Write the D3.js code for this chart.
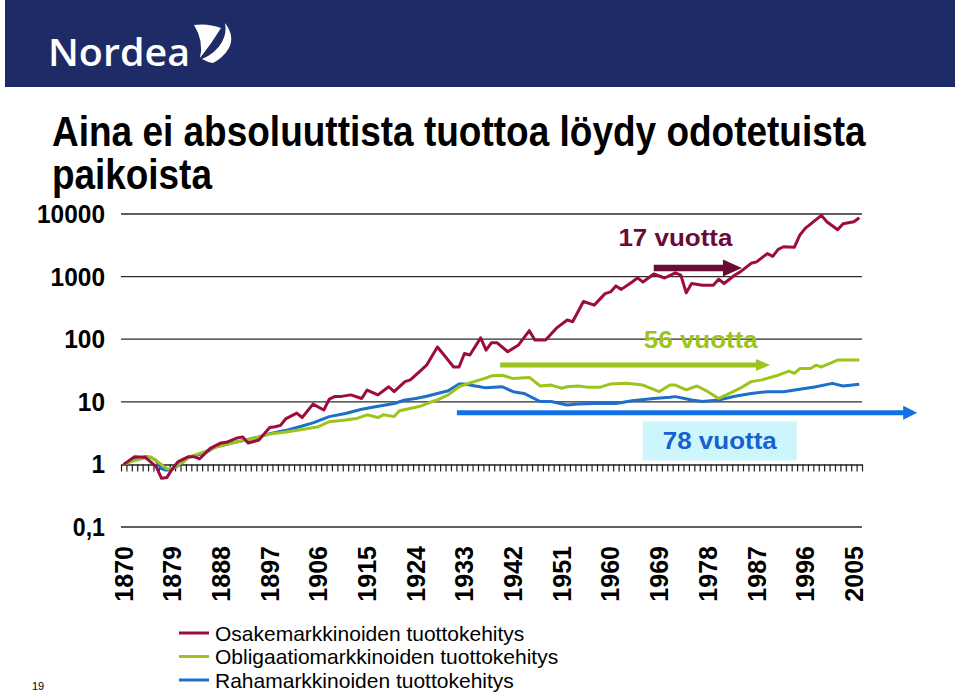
<!DOCTYPE html>
<html>
<head>
<meta charset="utf-8">
<script src="https://cdn.jsdelivr.net/npm/d3@7"></script>
<style>
  body { margin: 0; background: #fff; }
  svg { display: block; font-family: "Liberation Sans", Arial, sans-serif; }
</style>
</head>
<body>
<svg id="chart" width="960" height="693"></svg>
<script>
// Chart data (yearly index, 1870 = 1, log scale)
const firstYear = 1870;
const lastYear = 2006;
const labelYears = d3.range(1870, 2006, 9);
const yTicks = [0.1, 1, 10, 100, 1000, 10000];
const yTickLabels = ["0,1", "1", "10", "100", "1000", "10000"];

const seriesNames = [
  "Osakemarkkinoiden tuottokehitys",
  "Obligaatiomarkkinoiden tuottokehitys",
  "Rahamarkkinoiden tuottokehitys"
];
const seriesColors = ["#9c0d3e", "#9cc41c", "#1e6fc8"];

const stocks = [
  [1870, 1], [1872, 1.33], [1874, 1.3], [1876, 0.92], [1877, 0.6], [1878, 0.62],
  [1879, 0.85], [1880, 1.1], [1882, 1.33], [1883, 1.33], [1884, 1.22], [1886, 1.8],
  [1888, 2.2], [1889, 2.25], [1891, 2.65], [1892, 2.75], [1893, 2.2], [1895, 2.45],
  [1896, 3.1], [1897, 3.9], [1898, 4.0], [1899, 4.2], [1900, 5.4], [1902, 6.6],
  [1903, 5.6], [1905, 9.2], [1907, 7.4], [1908, 11], [1909, 12.1], [1910, 12.1],
  [1912, 12.9], [1914, 11.3], [1915, 15.4], [1917, 12.9], [1919, 17.4], [1920, 14.5],
  [1922, 21], [1923, 22.4], [1925, 32], [1926, 38.5], [1928, 75], [1929, 59],
  [1931, 36], [1932, 36], [1933, 59], [1934, 56], [1936, 105], [1937, 67],
  [1938, 88], [1939, 88], [1941, 63], [1943, 81], [1945, 137], [1946, 97],
  [1948, 97], [1950, 150], [1952, 203], [1953, 190], [1955, 400], [1957, 350],
  [1959, 535], [1960, 570], [1961, 710], [1962, 625], [1964, 820], [1965, 955],
  [1966, 820], [1968, 1100], [1970, 950], [1972, 1150], [1973, 1060], [1974, 550],
  [1975, 775], [1977, 730], [1979, 730], [1980, 910], [1981, 775], [1983, 1060],
  [1984, 1190], [1986, 1630], [1987, 1720], [1989, 2330], [1990, 2110], [1991, 2730],
  [1992, 3000], [1994, 2950], [1995, 4600], [1996, 5900], [1999, 9500], [2000, 7500],
  [2002, 5600], [2003, 7000], [2005, 7500], [2006, 8700]
];

const bonds = [
  [1870, 1], [1872, 1.15], [1874, 1.28], [1875, 1.3], [1876, 1.15], [1878, 0.85],
  [1879, 0.86], [1881, 1.1], [1882, 1.3], [1885, 1.6], [1887, 1.9], [1890, 2.2],
  [1893, 2.5], [1895, 2.75], [1897, 3.05], [1900, 3.3], [1903, 3.6], [1906, 4.0],
  [1908, 4.8], [1911, 5.1], [1913, 5.4], [1915, 6.2], [1917, 5.6], [1918, 6.2],
  [1920, 5.8], [1921, 7.2], [1924, 8.2], [1925, 8.6], [1927, 10.1], [1928, 10.7],
  [1930, 12.9], [1932, 17.4], [1934, 20], [1936, 22.6], [1937, 24], [1938, 26],
  [1940, 26.6], [1942, 23.5], [1945, 24.5], [1947, 17.9], [1949, 18.5], [1951, 16.5],
  [1952, 17.4], [1954, 17.9], [1956, 17], [1958, 17], [1960, 19.3], [1963, 19.7],
  [1966, 18.5], [1969, 14.5], [1971, 18.5], [1972, 18.5], [1974, 15.5], [1976, 17.9],
  [1978, 14.5], [1980, 11.3], [1982, 13.6], [1984, 16.5], [1986, 21], [1988, 22.4],
  [1991, 26.6], [1993, 31], [1994, 28.5], [1995, 34], [1997, 34], [1998, 38.5],
  [1999, 36], [2002, 46.5], [2006, 46.5]
];

const money = [
  [1870, 1], [1872, 1.2], [1874, 1.33], [1875, 1.3], [1876, 1.15], [1877, 0.85],
  [1878, 0.81], [1879, 0.84], [1880, 0.95], [1881, 1.1], [1882, 1.3], [1885, 1.52],
  [1887, 1.9], [1890, 2.2], [1893, 2.5], [1895, 2.75], [1897, 3.1], [1900, 3.5],
  [1903, 4.1], [1905, 4.6], [1908, 5.8], [1911, 6.5], [1914, 7.6], [1916, 8.2],
  [1920, 9.4], [1922, 10.7], [1924, 11.3], [1926, 12.3], [1928, 13.6], [1930, 15],
  [1932, 19.3], [1933, 19.3], [1935, 17.9], [1937, 16.7], [1940, 17.4], [1942, 14.5],
  [1944, 13.6], [1947, 10.1], [1949, 10.1], [1952, 8.9], [1954, 9.2], [1957, 9.4],
  [1961, 9.4], [1964, 10.4], [1968, 11.3], [1971, 11.8], [1972, 12.1], [1975, 10.7],
  [1977, 10.1], [1980, 10.7], [1983, 12.3], [1986, 13.6], [1989, 14.5], [1992, 14.5],
  [1995, 15.9], [1998, 17.4], [2001, 19.7], [2003, 17.9], [2006, 19]
];

// Annotation arrows (years / index level) and their labels
const arrows = [
  { from: 1968, to: 1984.3, value: 1370, color: "#6a0b35", width: 6.5, head: 19, headH: 17 },
  { from: 1939.6, to: 1989.5, value: 38.7, color: "#9cc41c", width: 5, head: 14, headH: 12 },
  { from: 1931.6, to: 2016.7, value: 6.7, color: "#1070e6", width: 5, head: 14, headH: 14 }
];
const notes = [
  { text: "17 vuotta", year: 1972, value: 1000, dy: -39, color: "#6a0b35", box: null },
  { text: "56 vuotta", year: 1976.7, value: 100, dy: 0, color: "#9cc41c", box: null },
  { text: "78 vuotta", year: 1980.2, value: 1, dy: -24, color: "#1660d0", box: "#ccf6fb" }
];

const svg = d3.select("#chart");

// squeeze a text horizontally so that it spans the given width
function fitWidth(sel, x0, y0, w) {
  const natural = sel.node().getComputedTextLength();
  sel.attr("transform", `translate(${x0},${y0}) scale(${Math.min(1, w / natural)},1)`);
}

// Nordea banner
svg.append("rect").attr("x", 5).attr("y", 0).attr("width", 950).attr("height", 87)
  .attr("fill", "#1f2b66");
svg.append("text").attr("x", 48).attr("y", 66)
  .attr("fill", "#fff").attr("font-size", 37).attr("font-weight", 600)
  .attr("font-family", "'Open Sans', 'Liberation Sans', sans-serif")
  .attr("textLength", 142).attr("lengthAdjust", "spacingAndGlyphs")
  .text("Nordea");
// sail mark
svg.append("path").attr("fill", "#fff")
  .attr("d", "M194,25 Q208,23 221,28 Q212,43 200,58 Q204,41 194,25 Z");
svg.append("path").attr("fill", "#fff")
  .attr("d", "M225,23 Q235,36 229,48 Q223,58 213,63 Q207,62 202,59 Q216,53 222,42 Q227,33 225,23 Z");

// Title (two lines, narrow)
const title1 = svg.append("text").attr("font-size", 42).attr("font-weight", "bold")
  .text("Aina ei absoluuttista tuottoa löydy odotetuista");
fitWidth(title1, 52, 146, 814);
const title2 = svg.append("text").attr("font-size", 42).attr("font-weight", "bold")
  .text("paikoista");
fitWidth(title2, 52, 189, 160);

// Scales
const x = d3.scaleLinear().domain([firstYear - 0.5, lastYear + 0.5]).range([121, 862]);
const y = d3.scaleLog().domain([0.1, 10000]).range([527, 214]);

// Gridlines (all except the axis at 1)
svg.append("g").selectAll("line")
  .data(yTicks.filter(d => d !== 1))
  .join("line")
  .attr("x1", x.range()[0]).attr("x2", x.range()[1])
  .attr("y1", d => y(d)).attr("y2", d => y(d))
  .attr("stroke", "#2a2a2a").attr("stroke-width", 1.3);

// Y labels
svg.append("g").selectAll("text")
  .data(yTicks)
  .join("text")
  .attr("x", 105).attr("y", d => y(d)).attr("dy", "0.36em")
  .attr("text-anchor", "end").attr("font-size", 25).attr("font-weight", "bold")
  .attr("textLength", (d, i) => yTickLabels[i].replace(",", "").length * 13.6 + (yTickLabels[i].includes(",") ? 5 : 0))
  .attr("lengthAdjust", "spacingAndGlyphs")
  .text((d, i) => yTickLabels[i]);

// Category axis crossing at 1, with ticks between years
const axisY = y(1);
const axis = d3.axisBottom(x)
  .tickValues(d3.range(firstYear - 0.5, lastYear + 1, 1))
  .tickSize(7).tickSizeOuter(0).tickFormat("");
const axisG = svg.append("g").attr("transform", `translate(0,${axisY})`).call(axis);
axisG.select(".domain").attr("stroke", "#222").attr("stroke-width", 1.5);
axisG.selectAll(".tick line").attr("stroke", "#222").attr("stroke-width", 1.2);

// Year labels at the bottom
svg.append("g").selectAll("text")
  .data(labelYears)
  .join("text")
  .attr("transform", d => `translate(${x(d)},546) rotate(-90)`)
  .attr("dy", "0.36em").attr("text-anchor", "end")
  .attr("font-size", 25).attr("font-weight", "bold")
  .text(d => d);

// Series lines
const line = d3.line().x(d => x(d[0])).y(d => y(d[1]));
const series = [stocks, bonds, money];
// draw money first, then bonds, then stocks on top
[2, 1, 0].forEach(i => {
  svg.append("path").datum(series[i])
    .attr("fill", "none").attr("stroke", seriesColors[i])
    .attr("stroke-width", 3).attr("stroke-linejoin", "round")
    .attr("d", line);
});

// Arrows
arrows.forEach(a => {
  const x0 = x(a.from), x1 = x(a.to), yy = y(a.value);
  svg.append("line").attr("x1", x0).attr("x2", x1 - a.head + 1)
    .attr("y1", yy).attr("y2", yy)
    .attr("stroke", a.color).attr("stroke-width", a.width);
  svg.append("path").attr("fill", a.color)
    .attr("d", `M${x1 - a.head},${yy - a.headH / 2} L${x1},${yy} L${x1 - a.head},${yy + a.headH / 2} Z`);
});

// Annotation labels
notes.forEach(n => {
  const cx = x(n.year), cy = y(n.value) + n.dy;
  if (n.box) {
    svg.append("rect").attr("x", cx - 77).attr("y", cy - 19)
      .attr("width", 154).attr("height", 39).attr("fill", n.box);
  }
  svg.append("text").attr("x", cx).attr("y", cy).attr("dy", "0.36em")
    .attr("text-anchor", "middle").attr("font-size", 24).attr("font-weight", "bold")
    .attr("fill", n.color)
    .attr("textLength", 114).attr("lengthAdjust", "spacingAndGlyphs")
    .text(n.text);
});

// Legend
const legend = svg.append("g").selectAll("g")
  .data(seriesNames)
  .join("g")
  .attr("transform", (d, i) => `translate(179,${633 + i * 23.5})`);
legend.append("line").attr("x1", 0).attr("x2", 30)
  .attr("stroke", (d, i) => seriesColors[i]).attr("stroke-width", 3);
legend.append("text").attr("x", 36).attr("dy", "0.36em")
  .attr("font-size", 21).text(d => d);

// Page number
svg.append("text").attr("x", 32).attr("y", 690).attr("font-size", 11).text("19");
</script>
</body>
</html>
